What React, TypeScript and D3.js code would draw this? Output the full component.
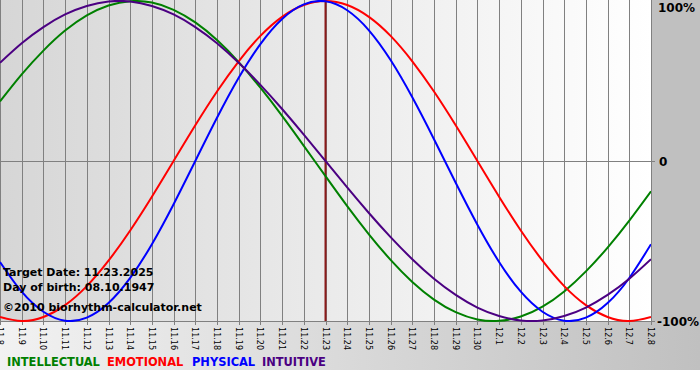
import React from "react";
import * as d3 from "d3";

const dayLabels = [
  "11.8","11.9","11.10","11.11","11.12","11.13","11.14","11.15","11.16","11.17",
  "11.18","11.19","11.20","11.21","11.22","11.23","11.24","11.25","11.26","11.27",
  "11.28","11.29","11.30","12.1","12.2","12.3","12.4","12.5","12.6","12.7","12.8",
];

const intellectual = [
  0.372,0.541,0.690,0.815,0.910,0.972,0.999,0.990,0.945,0.866,
  0.756,0.618,0.458,0.282,0.095,-0.095,-0.282,-0.458,-0.618,-0.756,
  -0.866,-0.945,-0.990,-0.999,-0.972,-0.910,-0.815,-0.690,-0.541,-0.372,-0.189,
];
const emotional = [
  -0.975,-1,-0.975,-0.901,-0.782,-0.623,-0.434,-0.223,0,0.223,
  0.434,0.623,0.782,0.901,0.975,1,0.975,0.901,0.782,0.623,
  0.434,0.223,0,-0.223,-0.434,-0.623,-0.782,-0.901,-0.975,-1,-0.975,
];
const physical = [
  -0.631,-0.817,-0.942,-0.998,-0.979,-0.888,-0.731,-0.520,-0.270,0,
  0.270,0.520,0.731,0.888,0.979,0.998,0.942,0.817,0.631,0.398,
  0.136,-0.136,-0.398,-0.631,-0.817,-0.942,-0.998,-0.979,-0.888,-0.731,-0.520,
];
const intuitive = [
  0.614,0.736,0.837,0.916,0.969,0.997,0.997,0.969,0.916,0.837,
  0.736,0.614,0.476,0.325,0.165,0,-0.165,-0.325,-0.476,-0.614,
  -0.736,-0.837,-0.916,-0.969,-0.997,-0.997,-0.969,-0.916,-0.837,-0.736,-0.614,
];

const seriesNames = ["INTELLECTUAL", "EMOTIONAL", "PHYSICAL", "INTUITIVE"];
const seriesColors = ["#008000", "#ff0000", "#0000ff", "#4b0082"];
const seriesValues = [intellectual, emotional, physical, intuitive];
const yTickValues = [1, 0, -1];
const yTickLabels = ["100%", "0", "-100%"];
const targetIndex = 15;
const infoLines = ["Target Date: 11.23.2025", "Day of birth: 08.10.1947"];
const copyright = "\u00A92010 biorhythm-calculator.net";

export default function App() {
  const W = 700, H = 370;
  const plotL = 0, plotR = 651, plotT = 1, plotB = 321;
  const x = d3.scaleLinear().domain([0, dayLabels.length - 1]).range([plotL, plotR]);
  const y = d3.scaleLinear().domain([-1, 1]).range([plotB, plotT]);
  const line = d3.line<number>().x((_, i) => x(i)).y((d) => y(d)).curve(d3.curveNatural);
  const font = "'DejaVu Sans', Verdana, sans-serif";
  const legendXs = [7, 107, 192, 262];
  const yLabelXs = [658, 659, 657];

  return (
    <svg width={700} height={380} style={{ position: "absolute", left: 0, top: 0, background: "#fff" }}>
      <defs>
        <linearGradient id="plotbg" x1="0" x2="1" y1="0" y2="0">
          <stop offset="0" stopColor="#d6d6d6" />
          <stop offset="1" stopColor="#ffffff" />
        </linearGradient>
        <linearGradient id="bottombg" x1="0" x2="1" y1="0" y2="0">
          <stop offset="0" stopColor="#f2f2f2" />
          <stop offset="1" stopColor="#c0c0c0" />
        </linearGradient>
        <clipPath id="plotclip">
          <rect x={plotL} y={0} width={plotR - plotL} height={plotB + 1} />
        </clipPath>
      </defs>
      <rect x={0} y={0} width={W} height={H} fill="url(#bottombg)" />
      <rect x={plotR} y={0} width={W - plotR} height={plotB} fill="#c0c0c0" />
      <rect x={plotL} y={0} width={plotR - plotL} height={plotB} fill="url(#plotbg)" />
      {dayLabels.map((_, i) => (
        <line key={"g" + i} x1={Math.round(x(i)) + 0.5} x2={Math.round(x(i)) + 0.5} y1={0} y2={plotB + 4} stroke="#808080" strokeWidth={1} />
      ))}
      <line x1={plotL} x2={plotR + 4} y1={Math.round(y(0)) + 0.5} y2={Math.round(y(0)) + 0.5} stroke="#808080" />
      <line x1={plotL} x2={plotR + 4} y1={plotB + 0.5} y2={plotB + 0.5} stroke="#808080" />
      <line x1={plotR + 0.5} x2={plotR + 0.5} y1={0} y2={plotB} stroke="#808080" />
      <line x1={x(targetIndex)} x2={x(targetIndex)} y1={0} y2={plotB} stroke="#8b1a1a" strokeWidth={2} />
      <g clipPath="url(#plotclip)">
        {seriesValues.map((vals, i) => (
          <path key={"s" + i} d={line(vals) || ""} fill="none" stroke={seriesColors[i]} strokeWidth={2} />
        ))}
      </g>
      {yTickValues.map((v, i) => (
        <text key={"y" + i} x={yLabelXs[i]} y={Math.max(y(v) + 5, 12)} fontFamily={font} fontWeight="bold" fontSize={12} fill="#000">
          {yTickLabels[i]}
        </text>
      ))}
      {dayLabels.map((lab, i) => (
        <text key={"t" + i} transform={`translate(${x(i) - 3},${plotB + 6}) rotate(90)`} fontFamily="'DejaVu Sans Condensed', 'DejaVu Sans', sans-serif" fontSize={9} fill="#000">
          {lab}
        </text>
      ))}
      {infoLines.map((t, i) => (
        <text key={"i" + i} x={3} y={276 + i * 15} fontFamily={font} fontWeight="bold" fontSize={11} fill="#000">
          {t}
        </text>
      ))}
      <text x={3} y={311} fontFamily={font} fontWeight="bold" fontSize={11} fill="#000">{copyright}</text>
      {seriesNames.map((n, i) => (
        <text key={n} x={legendXs[i]} y={366} fontFamily="'DejaVu Sans Condensed', 'DejaVu Sans', sans-serif" fontWeight="bold" fontSize={12.7} fill={seriesColors[i]}>
          {n}
        </text>
      ))}
    </svg>
  );
}
